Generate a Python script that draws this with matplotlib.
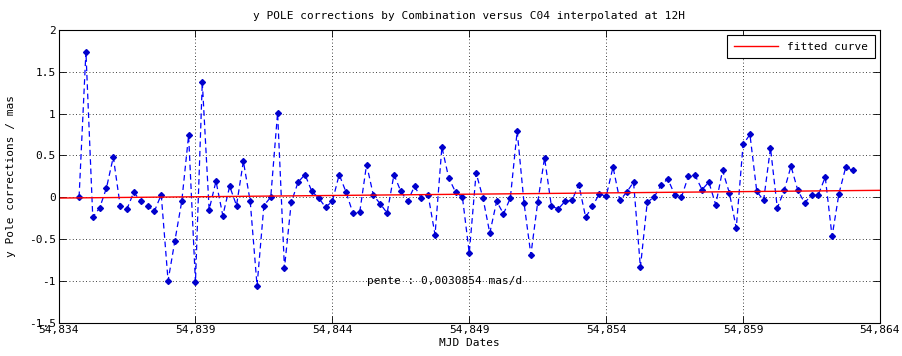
import numpy as np
import matplotlib
matplotlib.use("Agg")
import matplotlib.pyplot as plt
from matplotlib.ticker import FuncFormatter

# %%
# y pole corrections, one value every 6 hours (MJD)
mjd_start = 54834.75
mjd_step = 0.25
y_pole = [
    0.00, 1.74, -0.24, -0.13, 0.11, 0.48, -0.10, -0.14, 0.06, -0.05,
    -0.10, -0.17, 0.03, -1.00, -0.52, -0.05, 0.74, -1.02, 1.38, -0.15,
    0.19, -0.22, 0.13, -0.10, 0.43, -0.05, -1.06, -0.10, 0.00, 1.01,
    -0.85, -0.06, 0.18, 0.27, 0.07, -0.01, -0.12, -0.05, 0.27, 0.06,
    -0.19, -0.18, 0.39, 0.02, -0.08, -0.19, 0.27, 0.07, -0.05, 0.13,
    -0.01, 0.02, -0.45, 0.60, 0.23, 0.06, 0.00, -0.67, 0.29, -0.01,
    -0.43, -0.05, -0.20, -0.01, 0.79, -0.07, -0.69, -0.06, 0.47, -0.11,
    -0.14, -0.05, -0.04, 0.15, -0.24, -0.11, 0.04, 0.01, 0.36, -0.04,
    0.06, 0.18, -0.84, -0.06, 0.00, 0.14, 0.22, 0.03, 0.00, 0.25,
    0.26, 0.09, 0.18, -0.09, 0.32, 0.05, -0.37, 0.63, 0.75, 0.07,
    -0.04, 0.59, -0.13, 0.08, 0.37, 0.08, -0.07, 0.03, 0.03, 0.24,
    -0.47, 0.04, 0.36, 0.32,
]
slope = 0.0030854  # mas/d

xlim = (54834, 54864)
ylim = (-1.5, 2)
xticks = np.arange(54834, 54865, 5)
yticks = np.arange(-1.5, 2.01, 0.5)


def thousands(v, pos):
    return "{:,.0f}".format(v)


def short_num(v, pos):
    return "{:g}".format(v)


# %%
mjd = mjd_start + mjd_step * np.arange(len(y_pole))
y = np.array(y_pole)
offset = y.mean() - slope * mjd.mean()
x_fit = np.linspace(xlim[0], xlim[1], 200)
y_fit = offset + slope * x_fit

plt.rcParams["font.family"] = ["DejaVu Sans Mono"]
plt.rcParams["font.size"] = 8

fig = plt.figure(figsize=(9.02, 3.56), dpi=100)
ax = fig.add_axes([0.0649, 0.0941, 0.9107, 0.8216])

ax.plot(mjd, y, "--", color="#0000ff", lw=0.9, dashes=(4.5, 3),
        marker="D", ms=3, mfc="#0000cc", mec="#0000cc")
ax.plot(x_fit, y_fit, color="red", lw=1.0, label="fitted curve")

ax.text(54845.25, -1.0, "pente : " + str(slope).replace(".", ",") + " mas/d",
        va="center", ha="left", fontsize=8)

ax.set_xlim(xlim)
ax.set_ylim(ylim)
ax.set_xticks(xticks)
ax.set_yticks(yticks)
ax.xaxis.set_major_formatter(FuncFormatter(thousands))
ax.yaxis.set_major_formatter(FuncFormatter(short_num))
ax.tick_params(direction="in", length=5, width=0.6, top=True, right=True,
               labelsize=8, pad=2)
ax.grid(True, linestyle=(0, (1, 3)), color="black", lw=0.6)
for s in ax.spines.values():
    s.set_linewidth(0.8)

ax.set_title("y POLE corrections by Combination versus C04 interpolated at 12H",
             fontsize=8, pad=8)
ax.set_xlabel("MJD Dates", fontsize=8, labelpad=2)
ax.set_ylabel("y Pole corrections / mas", fontsize=8, labelpad=9)

leg = ax.legend(loc="upper right", fontsize=8, fancybox=False, framealpha=1,
                edgecolor="black", borderaxespad=0.45, handlelength=4,
                borderpad=0.6)
leg.get_frame().set_linewidth(0.8)

fig.savefig("out.png", dpi=100)
